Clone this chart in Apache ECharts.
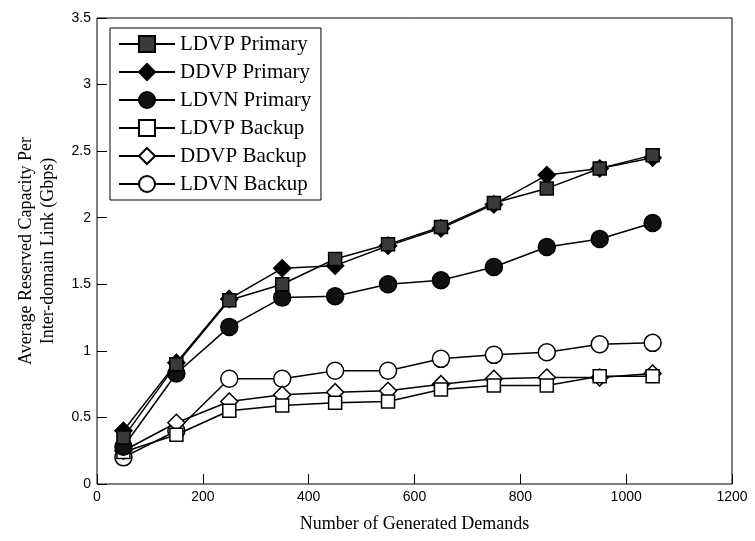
<!DOCTYPE html>
<html><head><meta charset="utf-8">
<script src="https://cdn.jsdelivr.net/npm/echarts@6/dist/echarts.min.js"></script>
<style>html,body{margin:0;padding:0;background:#fff}#c{width:755px;height:541px}</style>
</head><body><div id="c"></div>
<script>
const demands = [50,150,250,350,450,550,650,750,850,950,1050];
const ldvpPrimary = [0.35,0.90,1.38,1.50,1.69,1.80,1.93,2.11,2.22,2.37,2.47];
const ddvpPrimary = [0.40,0.91,1.39,1.62,1.64,1.79,1.92,2.10,2.32,2.37,2.45];
const ldvnPrimary = [0.28,0.83,1.18,1.40,1.41,1.50,1.53,1.63,1.78,1.84,1.96];
const ldvpBackup = [0.24,0.37,0.55,0.59,0.61,0.62,0.71,0.74,0.74,0.81,0.81];
const ddvpBackup = [0.25,0.46,0.62,0.67,0.69,0.70,0.75,0.79,0.80,0.80,0.83];
const ldvnBackup = [0.20,0.40,0.79,0.79,0.85,0.85,0.94,0.97,0.99,1.05,1.06];
const xTicks = [0,200,400,600,800,1000,1200];
const yTicks = [0,0.5,1,1.5,2,2.5,3,3.5];

const names = ['LDVP Primary','DDVP Primary','LDVN Primary','LDVP Backup','DDVP Backup','LDVN Backup'];
const datas = [ldvpPrimary,ddvpPrimary,ldvnPrimary,ldvpBackup,ddvpBackup,ldvnBackup];
const symbols = ['rect','diamond','circle','rect','diamond','circle'];
const sizes = [13,17,17,13,17,17];
const fills = ['#3a3a3a','#000','#111','#fff','#fff','#fff'];

const series = names.map((n,i)=>({
  name:n, type:'line', data: demands.map((d,j)=>[d,datas[i][j]]),
  xAxisIndex:0, yAxisIndex:0,
  symbol: symbols[i], symbolSize: sizes[i], showSymbol:true,
  lineStyle:{color:'#000',width:1.5},
  itemStyle:{color:fills[i],borderColor:'#000',borderWidth:1.5},
  z: 10 - i
}));

const font = 'Liberation Sans';
const serif = 'Liberation Serif';
const legTop = 28, legPad = 6, legRow = 20, legGap = 8, legLeft = 110, legIconW = 56;
const legendTexts = names.map((n,i)=>({
  type:'text', z:100, silent:true,
  x: legLeft + 8 + legIconW + 6,
  y: legTop + legPad + legRow/2 + i*(legRow+legGap),
  style:{text:n, fontFamily:serif, fontSize:21, fill:'#000', verticalAlign:'middle', align:'left'}
}));
const xRange = {type:'value', min:xTicks[0], max:xTicks[xTicks.length-1], interval:200};
const yRange = {type:'value', min:yTicks[0], max:yTicks[yTicks.length-1], interval:0.5};
const tickSty = {show:true,length:5,lineStyle:{color:'#000',width:1}};
const chart = echarts.init(document.getElementById('c'));
chart.setOption({
  animation:false,
  backgroundColor:'#fff',
  textStyle:{fontFamily:serif},
  grid:{left:97,right:23,top:18,bottom:57,show:true,borderColor:'#000',borderWidth:1,backgroundColor:'transparent'},
  legend:{
    orient:'vertical', left:legLeft, top:legTop, itemWidth:legIconW, itemHeight:legRow, itemGap:legGap,
    backgroundColor:'#fff', borderColor:'#000', borderWidth:1, padding:[legPad,16,legPad,8],
    textStyle:{fontSize:20,color:'rgba(0,0,0,0)'},
    data:names
  },
  graphic: legendTexts,
  xAxis:[Object.assign({}, xRange, {
    position:'bottom', offset:-5,
    name:'Number of Generated Demands', nameLocation:'middle', nameGap:36,
    nameTextStyle:{fontFamily:serif,fontSize:18,color:'#000'},
    axisLine:{show:false},
    axisTick:tickSty,
    axisLabel:{fontFamily:font,fontSize:14,color:'#000',margin:11,formatter:v=>String(v)},
    splitLine:{show:false}
  }),
  Object.assign({}, xRange, {position:'top', offset:-5, axisLine:{show:false}, axisTick:tickSty, axisLabel:{show:false}, splitLine:{show:false}})
  ],
  yAxis:[Object.assign({}, yRange, {
    position:'left', offset:-5,
    name:'Average Reserved Capacity Per\nInter-domain Link (Gbps)', nameLocation:'middle', nameGap:43,
    nameTextStyle:{fontFamily:serif,fontSize:18,color:'#000',lineHeight:22},
    axisLine:{show:false},
    axisTick:tickSty,
    axisLabel:{fontFamily:font,fontSize:14,color:'#000',margin:11,formatter:v=>String(v)},
    splitLine:{show:false}
  }),
  Object.assign({}, yRange, {position:'right', offset:-5, axisLine:{show:false}, axisTick:tickSty, axisLabel:{show:false}, splitLine:{show:false}})
  ],
  series: series
});
</script></body></html>
